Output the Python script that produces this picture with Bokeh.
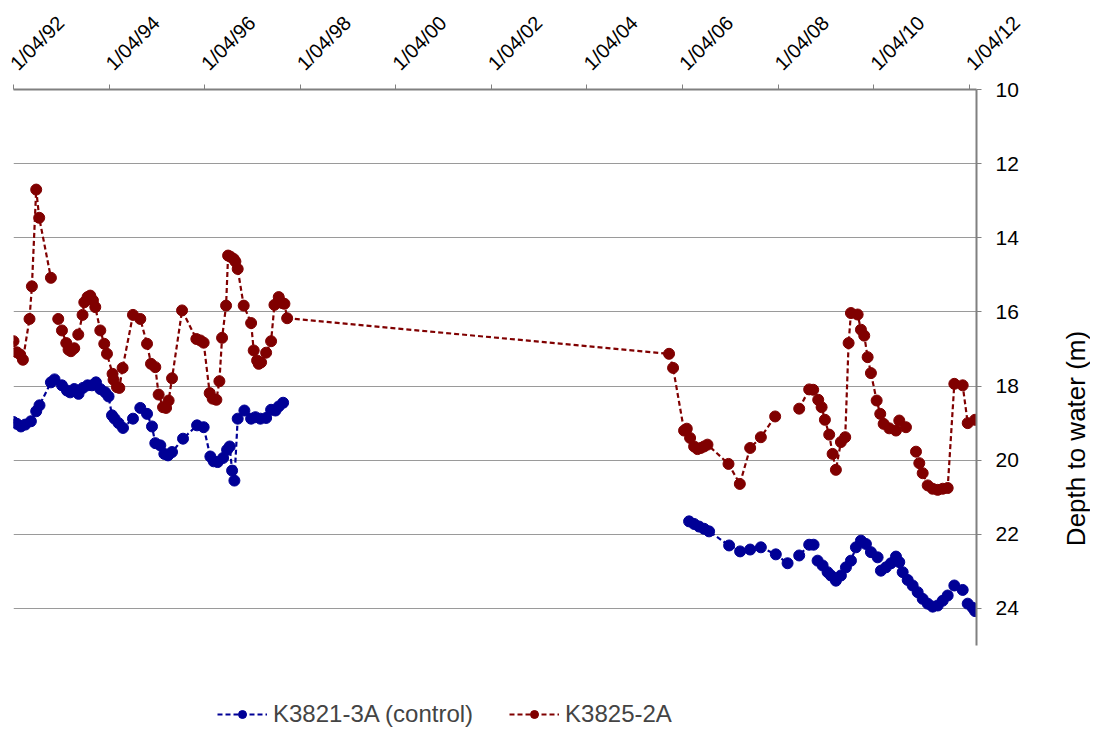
import math
from bokeh.plotting import figure
from bokeh.layouts import row
from bokeh.models import Range1d, FixedTicker, Legend, LegendItem, Label, ColumnDataSource
from bokeh.embed import file_html
from bokeh.resources import INLINE

nan = float("nan")

# x tick positions (decimal years, 1 April of each labelled year) and their labels
tick_years = [1992.25, 1994.25, 1996.25, 1998.25, 2000.25, 2002.25,
              2004.25, 2006.25, 2008.25, 2010.25, 2012.25]
tick_labels = ["1/04/92", "1/04/94", "1/04/96", "1/04/98", "1/04/00", "1/04/02",
               "1/04/04", "1/04/06", "1/04/08", "1/04/10", "1/04/12"]
depth_ticks = [10, 12, 14, 16, 18, 20, 22, 24]

# K3821-3A (control): time (decimal year) and depth to water (m); nan = break in the line
control_year = [
    1992.250, 1992.321, 1992.405, 1992.495, 1992.614, 1992.725, 1992.794,
    1993.033, 1993.109, 1993.264, 1993.368, 1993.437, 1993.521, 1993.611,
    1993.703, 1993.800, 1993.892, 1993.976, 1994.066, 1994.170, 1994.239,
    1994.311, 1994.365, 1994.449, 1994.541, 1994.750, 1994.903, 1995.044,
    1995.148, 1995.217, 1995.322, 1995.406, 1995.483, 1995.567, 1995.797,
    1996.091, 1996.229, 1996.369, 1996.438, 1996.522, 1996.635, 1996.719,
    1996.774, 1996.824, 1996.872, 1996.941, 1997.081, 1997.222, 1997.312,
    1997.416, 1997.536, 1997.640, 1997.731, 1997.800, 1997.892,
    nan,
    2006.386, 2006.491, 2006.596, 2006.700, 2006.805, 2007.224, 2007.454,
    2007.664, 2007.888, 2008.201, 2008.447, 2008.690, 2008.899, 2008.991,
    nan,
    2009.075, 2009.180, 2009.284, 2009.354, 2009.458, 2009.563, 2009.668,
    2009.773, 2009.877, 2009.982, 2010.086, 2010.191, 2010.331,
    nan,
    2010.400, 2010.505, 2010.610, 2010.715, 2010.784, 2010.855, 2010.960,
    2011.064, 2011.169, 2011.274, 2011.379, 2011.483, 2011.588, 2011.693,
    2011.797,
    nan,
    2011.936, 2012.111,
    nan,
    2012.216, 2012.321, 2012.370,
]
control_depth = [
    18.97, 19.02, 19.09, 19.04, 18.95, 18.68, 18.52,
    17.90, 17.82, 17.98, 18.12, 18.17, 18.08, 18.21,
    18.05, 17.98, 17.98, 17.90, 18.08, 18.17, 18.28,
    18.79, 18.88, 19.00, 19.13, 18.88, 18.59, 18.75,
    19.09, 19.54, 19.60, 19.83, 19.87, 19.78, 19.42,
    19.06, 19.11, 19.90, 20.03, 20.05, 19.94, 19.72,
    19.63, 20.28, 20.55, 18.88, 18.66, 18.88, 18.84,
    18.88, 18.86, 18.64, 18.66, 18.55, 18.45,
    nan,
    21.65, 21.72, 21.79, 21.85, 21.92, 22.30, 22.46,
    22.41, 22.35, 22.54, 22.78, 22.57, 22.28, 22.28,
    nan,
    22.71, 22.84, 23.02, 23.11, 23.25, 23.11, 22.89,
    22.71, 22.35, 22.17, 22.26, 22.48, 22.62,
    nan,
    22.98, 22.89, 22.78, 22.60, 22.75, 23.02, 23.23,
    23.38, 23.56, 23.74, 23.87, 23.95, 23.92, 23.79,
    23.65,
    nan,
    23.38, 23.50,
    nan,
    23.87, 23.98, 24.07,
]

# K3825-2A
k3825_year = [
    1992.250, 1992.321, 1992.390, 1992.447, 1992.585, 1992.635, 1992.725,
    1992.788, 1993.033,
    nan,
    1993.186, 1993.264, 1993.354, 1993.402, 1993.452, 1993.521, 1993.605,
    1993.695, 1993.731, 1993.800, 1993.856, 1993.913, 1993.961, 1994.066,
    1994.149, 1994.206, 1994.323, 1994.344, 1994.415, 1994.464, 1994.533,
    1994.750, 1994.903, 1995.044, 1995.127, 1995.217, 1995.287, 1995.379,
    1995.442, 1995.496, 1995.567, 1995.777, 1996.076, 1996.160, 1996.229,
    1996.355, 1996.418, 1996.495, 1996.558, 1996.614, 1996.698, 1996.740,
    1996.788, 1996.857, 1996.893, 1996.941, 1997.067, 1997.222, 1997.276,
    1997.347, 1997.381, 1997.431, 1997.536, 1997.640, 1997.710, 1997.800,
    1997.871, 1997.919, 1997.976,
    2005.967, 2006.051, 2006.281, 2006.338, 2006.407, 2006.491, 2006.562,
    2006.631, 2006.700, 2006.771, 2007.211, 2007.448, 2007.664, 2007.888,
    2008.187,
    nan,
    2008.690, 2008.899, 2008.983, 2009.088, 2009.159, 2009.228, 2009.318,
    2009.389, 2009.458, 2009.563, 2009.653, 2009.724, 2009.773, 2009.913,
    2009.982, 2010.051, 2010.122, 2010.191, 2010.311, 2010.386, 2010.457,
    2010.575, 2010.715, 2010.784, 2010.924,
    nan,
    2011.134, 2011.203, 2011.274, 2011.379, 2011.483, 2011.588, 2011.693,
    2011.797, 2011.936, 2012.111, 2012.216, 2012.370,
]
k3825_depth = [
    16.79, 17.09, 17.15, 17.29, 16.19, 15.31, 12.70,
    13.46, 15.08,
    nan,
    16.19, 16.50, 16.84, 17.02, 17.06, 16.98, 16.61,
    16.08, 15.74, 15.60, 15.56, 15.69, 15.87, 16.50,
    16.86, 17.13, 17.67, 17.83, 18.03, 18.05, 17.51,
    16.08, 16.19, 16.86, 17.40, 17.49, 18.23, 18.57,
    18.59, 18.39, 17.79, 15.96, 16.73, 16.77, 16.83,
    18.19, 18.34, 18.37, 17.87, 16.70, 15.83, 14.48,
    14.51, 14.57, 14.64, 14.84, 15.83, 16.30, 17.04,
    17.31, 17.40, 17.36, 17.10, 16.79, 15.81, 15.60,
    15.76, 15.78, 16.17,
    17.13, 17.51, 19.20, 19.15, 19.40, 19.63, 19.70,
    19.67, 19.63, 19.58, 20.10, 20.64, 19.67, 19.38,
    18.82,
    nan,
    18.61, 18.09, 18.10, 18.37, 18.57, 18.91, 19.31,
    19.83, 20.26, 19.51, 19.38, 16.84, 16.03, 16.07,
    16.48, 16.64, 17.22, 17.65, 18.39, 18.75, 19.02,
    19.14, 19.20, 18.93, 19.11,
    nan,
    19.77, 20.08, 20.35, 20.68, 20.77, 20.80, 20.77,
    20.75, 17.94, 17.98, 19.00, 18.91,
]

BLUE = "#000096"
RED = "#800000"
FONT = "Liberation Sans"

FIG_H = 728
TOP = 89
PX_PER_M = 37.07
y_bottom = 10 + (FIG_H - TOP) / PX_PER_M  # frame reaches to the bottom; axis stops at 25

p = figure(width=1050, height=FIG_H, output_backend="svg", toolbar_location=None,
           x_axis_location="above", y_axis_location="right",
           x_range=Range1d(1992.25, 2012.40), y_range=Range1d(y_bottom, 10),
           min_border_left=13, min_border_right=74, min_border_top=TOP,
           min_border_bottom=0)
p.outline_line_color = None
p.background_fill_color = "white"
p.border_fill_color = "white"

src_c = ColumnDataSource(dict(x=control_year, y=control_depth))
src_k = ColumnDataSource(dict(x=k3825_year, y=k3825_depth))

l1 = p.line("x", "y", source=src_c, line_color=BLUE, line_width=2.2, line_dash="5 3")
s1 = p.scatter("x", "y", source=src_c, size=11, fill_color=BLUE, line_color=BLUE)
l2 = p.line("x", "y", source=src_k, line_color=RED, line_width=2.2, line_dash="5 3")
s2 = p.scatter("x", "y", source=src_k, size=11, fill_color=RED, line_color=RED)

# axes
xa = p.xaxis[0]
xa.ticker = FixedTicker(ticks=tick_years)
xa.major_label_overrides = {t: lab for t, lab in zip(tick_years, tick_labels)}
xa.major_label_orientation = math.pi / 4
xa.major_label_text_font = FONT
xa.major_label_text_font_size = "20px"
xa.major_label_text_color = "black"
xa.major_label_standoff = 18
xa.minor_tick_line_color = None
xa.major_tick_in = 0
xa.major_tick_out = 5
xa.axis_line_color = "#808080"
xa.axis_line_width = 2
xa.major_tick_line_color = "#808080"

ya = p.yaxis[0]
ya.ticker = FixedTicker(ticks=depth_ticks)
ya.bounds = (10, 25)
ya.major_label_text_font = FONT
ya.major_label_text_font_size = "21px"
ya.major_label_text_color = "black"
ya.major_label_standoff = 14
ya.minor_tick_line_color = None
ya.major_tick_in = 0
ya.major_tick_out = 5
ya.axis_line_color = "#808080"
ya.axis_line_width = 2
ya.major_tick_line_color = "#808080"

p.xgrid.visible = False
p.ygrid.grid_line_color = "#9a9a9a"
p.ygrid.grid_line_width = 1

legend = Legend(items=[LegendItem(label="K3821-3A (control)", renderers=[l1, s1]),
                       LegendItem(label="K3825-2A", renderers=[l2, s2])],
                orientation="horizontal", location=(204, 0),
                padding=0, margin=0, spacing=36, label_standoff=6,
                glyph_width=50, glyph_height=20,
                label_text_font=FONT, label_text_font_size="24px",
                border_line_color=None, background_fill_alpha=0)
p.add_layout(legend)

# narrow companion figure carrying the y-axis title (reads bottom to top)
t = figure(width=40, height=FIG_H, output_backend="svg", toolbar_location=None,
           x_range=Range1d(0, 40), y_range=Range1d(0, FIG_H),
           min_border=0)
t.axis.visible = False
t.grid.visible = False
t.outline_line_color = None
t.add_layout(Label(x=25, y=FIG_H - 438, x_units="screen", y_units="screen",
                   text="Depth to water (m)", angle=math.pi / 2,
                   text_align="center", text_baseline="middle",
                   text_font=FONT, text_font_size="26px", text_color="black"))

layout = row(p, t, spacing=0)
open("out.html", "w").write(file_html(layout, INLINE))
